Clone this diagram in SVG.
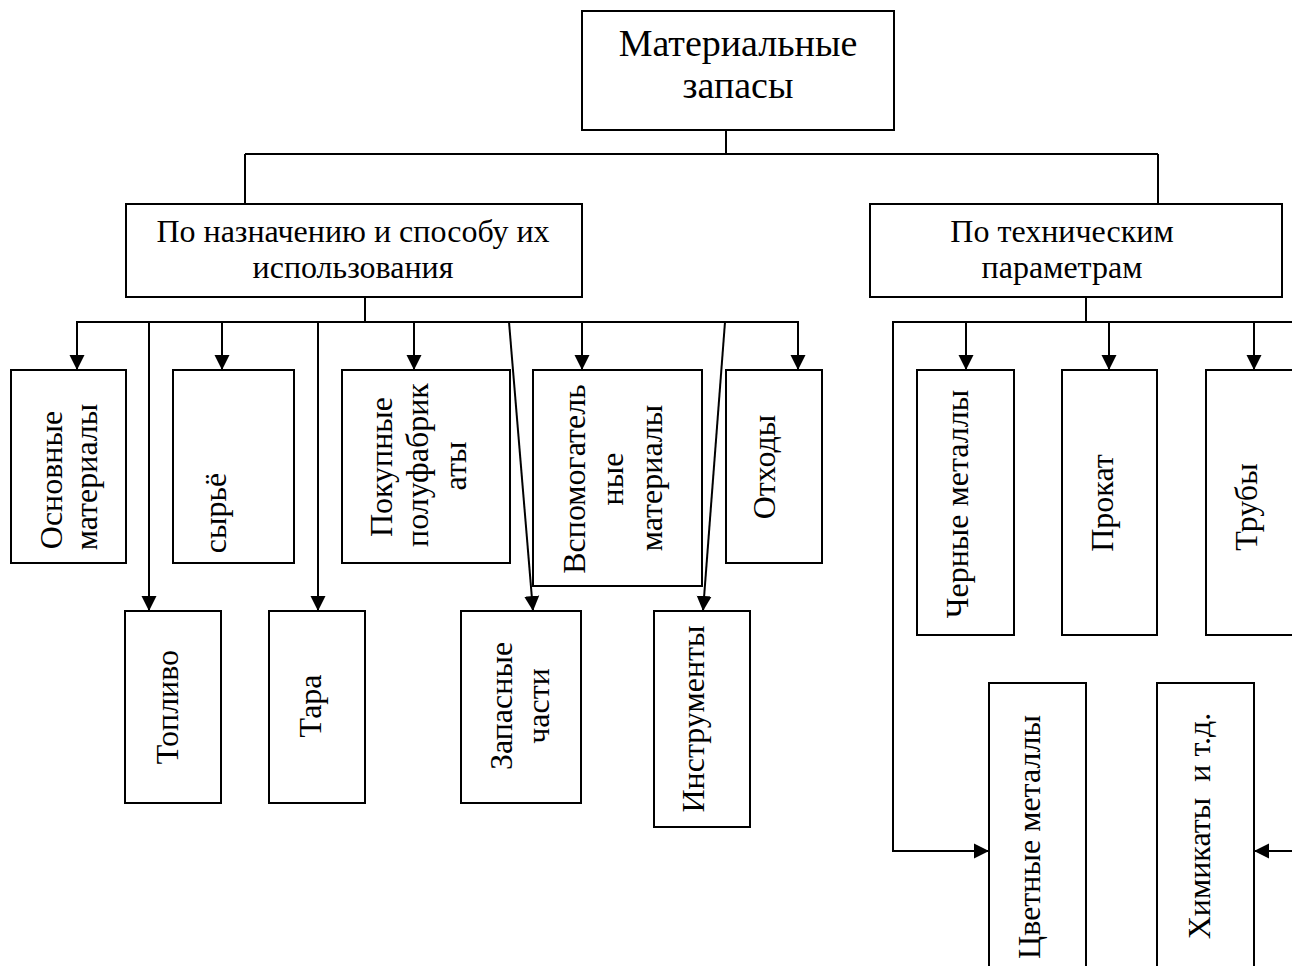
<svg xmlns="http://www.w3.org/2000/svg" width="1292" height="966" viewBox="0 0 1292 966">
<style>
rect.box{fill:#fff;stroke:#000;stroke-width:2}
.c line,.c polyline{stroke:#000;stroke-width:2;fill:none}
text{font-family:"Liberation Serif","Times New Roman",serif;font-size:32px;fill:#000;text-anchor:middle}
text.top{font-size:38px}
</style>
<defs>
<marker id="ah" markerUnits="userSpaceOnUse" markerWidth="16" markerHeight="16" viewBox="0 0 16 16" refX="15" refY="8" orient="auto">
<path d="M0,0.5 L15,8 L0,15.5 Z" fill="#000"/>
</marker>
</defs>
<rect width="1292" height="966" fill="#fff"/>
<g class="c" id="connectors">
<line x1="726" y1="130" x2="726" y2="154"/>
<line x1="245" y1="154" x2="1158" y2="154"/>
<line x1="245" y1="154" x2="245" y2="204"/>
<line x1="1158" y1="154" x2="1158" y2="204"/>
<line x1="365" y1="297" x2="365" y2="322"/>
<line x1="76" y1="322" x2="799" y2="322"/>
<line x1="77" y1="322" x2="77" y2="370" marker-end="url(#ah)"/>
<line x1="149" y1="322" x2="149" y2="611" marker-end="url(#ah)"/>
<line x1="222" y1="322" x2="222" y2="370" marker-end="url(#ah)"/>
<line x1="318" y1="322" x2="318" y2="611" marker-end="url(#ah)"/>
<line x1="414" y1="322" x2="414" y2="370" marker-end="url(#ah)"/>
<line x1="509" y1="322" x2="533" y2="611" marker-end="url(#ah)"/>
<line x1="582" y1="322" x2="582" y2="370" marker-end="url(#ah)"/>
<line x1="725" y1="322" x2="703" y2="611" marker-end="url(#ah)"/>
<line x1="798" y1="322" x2="798" y2="370" marker-end="url(#ah)"/>
<line x1="1086" y1="297" x2="1086" y2="322"/>
<line x1="892" y1="322" x2="1292" y2="322"/>
<line x1="966" y1="322" x2="966" y2="370" marker-end="url(#ah)"/>
<line x1="1109" y1="322" x2="1109" y2="370" marker-end="url(#ah)"/>
<line x1="1254" y1="322" x2="1254" y2="370" marker-end="url(#ah)"/>
<polyline points="893,322 893,851 989,851" marker-end="url(#ah)"/>
<line x1="1292" y1="851" x2="1254" y2="851" marker-end="url(#ah)"/>
</g>
<g id="n-root"><rect class="box" x="582" y="11" width="312" height="119"/>
<text class="top" x="738" y="56">Материальные</text><text class="top" x="738" y="98">запасы</text></g>
<g id="n-purpose"><rect class="box" x="126" y="204" width="456" height="93"/>
<text x="353" y="242">По назначению и способу их</text><text x="353" y="278">использования</text></g>
<g id="n-tech"><rect class="box" x="870" y="204" width="412" height="93"/>
<text x="1062" y="242">По техническим</text><text x="1062" y="278">параметрам</text></g>
<g id="n-osn"><rect class="box" x="11" y="370" width="115" height="193"/>
<text transform="translate(62,480) rotate(-90)">Основные</text><text transform="translate(97,477) rotate(-90)">материалы</text></g>
<g id="n-syr"><rect class="box" x="173" y="370" width="121" height="193"/>
<text transform="translate(226,513) rotate(-90)">сырьё</text></g>
<g id="n-pok"><rect class="box" x="342" y="370" width="168" height="193"/>
<text transform="translate(392,467) rotate(-90)">Покупные</text><text transform="translate(428,465) rotate(-90)">полуфабрик</text><text transform="translate(466,466) rotate(-90)">аты</text></g>
<g id="n-vsp"><rect class="box" x="533" y="370" width="169" height="216"/>
<text transform="translate(585,479) rotate(-90)">Вспомогатель</text><text transform="translate(623,479) rotate(-90)">ные</text><text transform="translate(662,478) rotate(-90)">материалы</text></g>
<g id="n-otx"><rect class="box" x="726" y="370" width="96" height="193"/>
<text transform="translate(775,467) rotate(-90)">Отходы</text></g>
<g id="n-topl"><rect class="box" x="125" y="611" width="96" height="192"/>
<text transform="translate(178,707) rotate(-90)">Топливо</text></g>
<g id="n-tara"><rect class="box" x="269" y="611" width="96" height="192"/>
<text transform="translate(321,706) rotate(-90)">Тара</text></g>
<g id="n-zap"><rect class="box" x="461" y="611" width="120" height="192"/>
<text transform="translate(512,706) rotate(-90)">Запасные</text><text transform="translate(549,706) rotate(-90)">части</text></g>
<g id="n-instr"><rect class="box" x="654" y="611" width="96" height="216"/>
<text transform="translate(704,719) rotate(-90)">Инструменты</text></g>
<g id="n-cher"><rect class="box" x="917" y="370" width="97" height="265"/>
<text transform="translate(968,504) rotate(-90)">Черные металлы</text></g>
<g id="n-prok"><rect class="box" x="1062" y="370" width="95" height="265"/>
<text transform="translate(1113,503) rotate(-90)">Прокат</text></g>
<g id="n-trub"><rect class="box" x="1206" y="370" width="96" height="265"/>
<text transform="translate(1257,507) rotate(-90)">Трубы</text></g>
<g id="n-cvet"><rect class="box" x="989" y="683" width="97" height="300"/>
<text transform="translate(1040,837) rotate(-90)">Цветные металлы</text></g>
<g id="n-xim"><rect class="box" x="1157" y="683" width="97" height="300"/>
<text transform="translate(1210,826) rotate(-90)" xml:space="preserve" style="white-space:pre">Химикаты  и т.д.</text></g>
</svg>
